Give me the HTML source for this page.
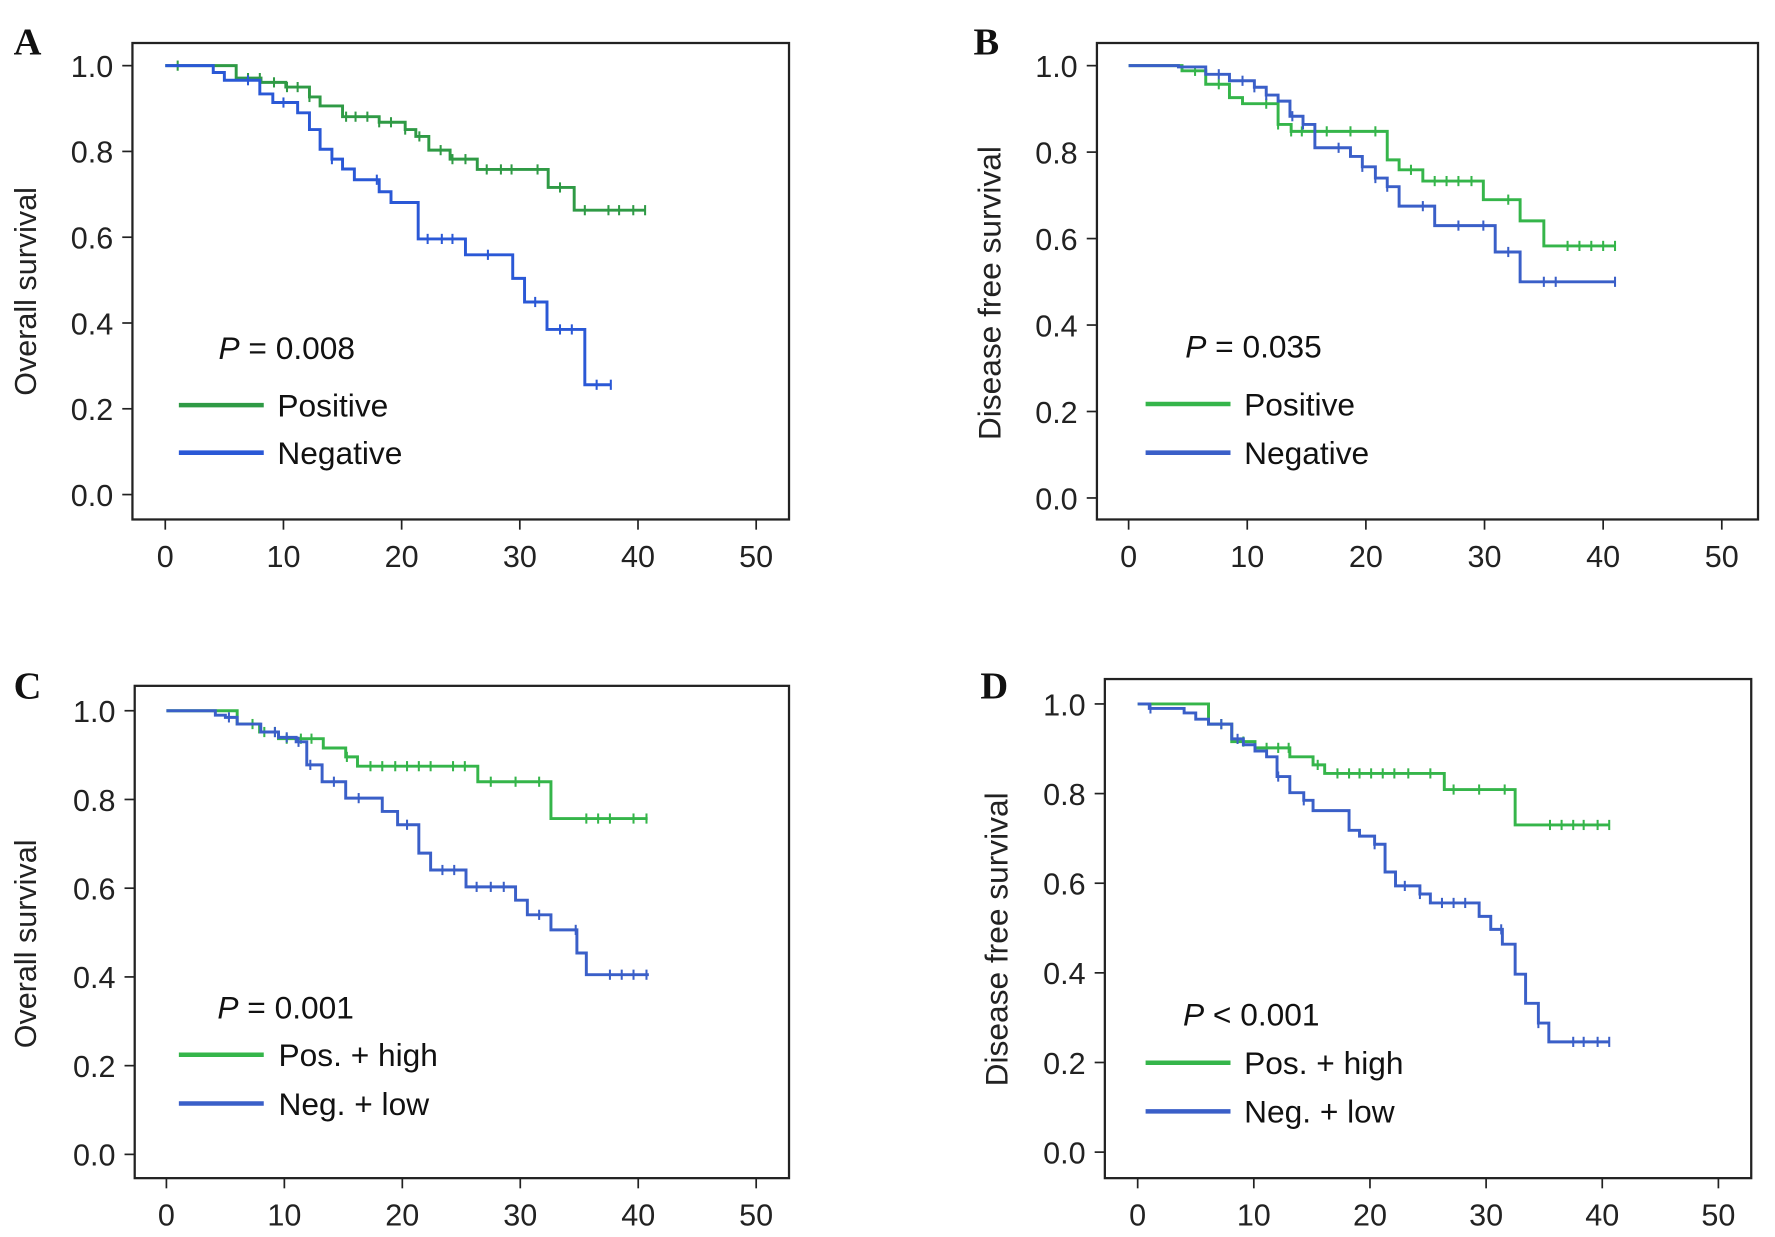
<!DOCTYPE html>
<html><head><meta charset="utf-8"><style>
html,body{margin:0;padding:0;background:#fff;}
svg{display:block;font-family:"Liberation Sans",sans-serif;}
</style></head><body>
<svg id="fig" width="1775" height="1237" viewBox="0 0 1568 1093" preserveAspectRatio="none" xmlns="http://www.w3.org/2000/svg"></svg>
<script>
// ---- data ----
const xTicks = [0,10,20,30,40,50];
const yTicks = [0.0,0.2,0.4,0.6,0.8,1.0];
const yTickLabels = ["0.0","0.2","0.4","0.6","0.8","1.0"];

const aPosSteps = [[0,1],[6,0.971],[8.1,0.961],[10.2,0.95],[12.2,0.927],[13.1,0.906],[15,0.881],[18.1,0.868],[20.3,0.851],[21.2,0.835],[22.3,0.803],[24.1,0.782],[26.4,0.758],[32.4,0.716],[34.6,0.663]];
const aPosEnd = 40.6;
const aPosCens = [1.05,7,8,9.2,10.3,11.2,12.2,15.3,16.1,17.1,18.1,19.1,20.3,21.5,23.3,24.3,25.4,27.2,28.4,29.3,31.5,33.4,35.5,37.5,38.4,39.6,40.6];
const aNegSteps = [[0,1],[4.06,0.984],[5,0.966],[8,0.934],[9.1,0.914],[11.2,0.89],[12.2,0.851],[13.1,0.805],[14.1,0.782],[15,0.759],[16,0.734],[18.1,0.706],[19.1,0.681],[21.4,0.596],[25.4,0.559],[29.4,0.504],[30.4,0.449],[32.3,0.385],[35.5,0.256]];
const aNegEnd = 37.7;
const aNegCens = [7,10,14.1,17.9,22.2,23.4,24.3,27.3,31.3,33.4,34.4,36.5,37.7];

const bPosSteps = [[0,1],[4.5,0.988],[6.5,0.957],[8.5,0.926],[9.6,0.912],[12.6,0.864],[13.7,0.848],[21.8,0.782],[22.8,0.759],[24.8,0.733],[29.9,0.69],[33,0.641],[35,0.583]];
const bPosEnd = 41;
const bPosCens = [5.6,7.6,11.6,12.6,13.7,14.6,16.7,18.7,20.8,23.8,25.8,26.8,27.8,28.9,32,37,38,39,40,41];
const bNegSteps = [[0,1],[4.2,0.997],[6.5,0.98],[8.5,0.965],[10.6,0.95],[11.6,0.932],[12.6,0.918],[13.6,0.883],[14.7,0.864],[15.7,0.81],[18.7,0.79],[19.7,0.766],[20.8,0.74],[21.8,0.72],[22.8,0.675],[25.8,0.63],[30.9,0.569],[33,0.5]];
const bNegEnd = 41;
const bNegCens = [7.6,9.6,10.6,11.6,13.8,14.7,17.7,19.7,20.8,21.8,24.8,27.8,29.9,32,35,36,41];

const cPosSteps = [[0,1],[6,0.97],[7.9,0.952],[9.5,0.937],[13.3,0.916],[15.2,0.896],[16.2,0.875],[26.4,0.84],[32.6,0.757]];
const cPosEnd = 40.8;
const cPosCens = [7.3,8.3,9.2,10.2,11.4,12.3,15.3,17.3,18.3,19.4,20.4,21.4,22.4,24.3,25.3,27.5,29.6,31.6,35.6,36.6,37.6,39.6,40.7];
const cNegSteps = [[0,1],[4.15,0.99],[5,0.985],[6,0.97],[8,0.952],[9.5,0.94],[11,0.93],[11.9,0.878],[13.2,0.84],[15.2,0.803],[18.3,0.773],[19.6,0.743],[21.4,0.679],[22.4,0.641],[25.4,0.603],[29.6,0.573],[30.6,0.54],[32.6,0.506],[34.8,0.454],[35.6,0.405]];
const cNegEnd = 40.9;
const cNegCens = [5.3,9.2,10.2,11.2,12.2,14.2,16.3,20.4,23.4,24.4,26.3,27.5,28.6,31.6,34.7,37.6,38.6,39.6,40.7];

const dPosSteps = [[0,1],[6.1,0.955],[8.1,0.916],[10.1,0.902],[13.1,0.882],[15.1,0.864],[16.1,0.845],[26.4,0.809],[32.5,0.73]];
const dPosEnd = 40.6;
const dPosCens = [7.2,9.1,11.1,12.1,13,15.5,17.2,18.2,19.1,20.1,21.1,22.1,23.3,25.2,27.2,29.4,31.6,35.5,36.5,37.5,38.4,39.6,40.6];
const dNegSteps = [[0,1],[1,0.99],[4,0.98],[5,0.966],[6.1,0.955],[8.1,0.922],[9.1,0.909],[10.1,0.895],[11.1,0.882],[12,0.838],[13.1,0.802],[14.3,0.785],[15.1,0.762],[18.2,0.718],[19.1,0.705],[20.4,0.687],[21.3,0.625],[22.2,0.594],[24.3,0.576],[25.2,0.556],[29.4,0.526],[30.4,0.497],[31.4,0.464],[32.5,0.397],[33.4,0.332],[34.5,0.288],[35.4,0.246]];
const dNegEnd = 40.6;
const dNegCens = [1.1,7.2,8.6,12.1,14.3,20.4,23,24.3,26.2,27.2,28.2,31.3,34.5,37.5,38.4,39.6,40.6];

const svg = document.getElementById('fig');
const NS = 'http://www.w3.org/2000/svg';
function mk(tag, attrs, parent){
  const e = document.createElementNS(NS, tag);
  for (const k in attrs) e.setAttribute(k, attrs[k]);
  (parent||svg).appendChild(e);
  return e;
}

const panels = [
 {id:'a', letter:'A', lx:12, ly:48, frame:[117,38,697,459], x0:146, x50:668, y1:58, y0:437, ytitle:'Overall survival', tx:22, tfs:27,
  pText:'0.008', pOp:'=', px:193, py:317, leg:[158,233,358,400,245], names:['Positive','Negative'],
  green:'#2f9a45', blue:'#2a58d6',
  series:[[aPosSteps,aPosEnd,aPosCens],[aNegSteps,aNegEnd,aNegCens]]},
 {id:'b', letter:'B', lx:860, ly:48, frame:[969,38,1553,459], x0:997, x50:1521, y1:58, y0:440, ytitle:'Disease free survival', tx:874, tfs:28,
  pText:'0.035', pOp:'=', px:1047, py:316, leg:[1012,1087,357,400,1099], names:['Positive','Negative'],
  green:'#35b54a', blue:'#3a5fc8',
  series:[[bPosSteps,bPosEnd,bPosCens],[bNegSteps,bNegEnd,bNegCens]]},
 {id:'c', letter:'C', lx:12, ly:617, frame:[119,606,697,1041], x0:147, x50:668, y1:628, y0:1020, ytitle:'Overall survival', tx:22, tfs:27,
  pText:'0.001', pOp:'=', px:192, py:900, leg:[158,233,932,975,246], names:['Pos. + high','Neg. + low'],
  green:'#35b54a', blue:'#3a5fc8',
  series:[[cPosSteps,cPosEnd,cPosCens],[cNegSteps,cNegEnd,cNegCens]]},
 {id:'d', letter:'D', lx:866, ly:617, frame:[976,600,1547,1041], x0:1005, x50:1518, y1:622, y0:1018, ytitle:'Disease free survival', tx:880, tfs:28,
  pText:'0.001', pOp:'<', px:1045, py:906, leg:[1012,1087,939,982,1099], names:['Pos. + high','Neg. + low'],
  green:'#35b54a', blue:'#3a5fc8',
  series:[[dPosSteps,dPosEnd,dPosCens],[dNegSteps,dNegEnd,dNegCens]]}
];

panels.forEach(p=>{
  const g = mk('g',{});
  
  
  const xs = t => p.x0 + (p.x50-p.x0)*t/50;
  const ys = v => p.y0 - (p.y0-p.y1)*v;
  const [l,t,r,b] = p.frame;

  const lt = mk('text',{x:p.lx,y:p.ly,'font-family':'"Liberation Serif",serif','font-weight':'bold','font-size':34,fill:'#111'},g);
  lt.textContent = p.letter;
  
  

  const fr = mk('rect',{x:l,y:t,width:r-l,height:b-t,fill:'none',stroke:'#222','stroke-width':2},g);
  
  

  yTicks.forEach((v,i)=>{
    const y = ys(v);
    const tk = mk('line',{x1:l-9,x2:l,y1:y,y2:y,stroke:'#222','stroke-width':1.5},g);
    
    
    const tl = mk('text',{x:l-17,y:y+10,'text-anchor':'end','font-size':27,fill:'#222'},g);
    tl.textContent = yTickLabels[i];
    
    
  });
  xTicks.forEach(v=>{
    const x = xs(v);
    const tk = mk('line',{x1:x,x2:x,y1:b,y2:b+9,stroke:'#222','stroke-width':1.5},g);
    
    
    const tl = mk('text',{x:x,y:b+42,'text-anchor':'middle','font-size':27,fill:'#222'},g);
    tl.textContent = String(v);
    
    
  });
  const cy = (p.y1+p.y0)/2;
  const yt = mk('text',{x:p.tx,y:cy,'text-anchor':'middle','font-size':p.tfs,fill:'#222',transform:'rotate(-90 '+(p.tx+10)+' '+cy+')'},g);
  yt.textContent = p.ytitle;
  
  

  const cols = [p.green, p.blue];
  p.series.forEach((s,si)=>{
    const [steps,end,cens] = s;
    let d = 'M'+xs(steps[0][0])+','+ys(steps[0][1]);
    for (let i=1;i<steps.length;i++){
      d += ' H'+xs(steps[i][0])+' V'+ys(steps[i][1]);
    }
    d += ' H'+xs(end);
    const path = mk('path',{d:d,fill:'none',stroke:cols[si],'stroke-width':2.6},g);
    
    
    const survAt = tt => { let v=steps[0][1]; steps.forEach(st=>{ if (st[0]<=tt) v=st[1]; }); return v; };
    cens.forEach(c=>{
      const x = xs(c), y = ys(survAt(c));
      const m = mk('line',{x1:x,x2:x,y1:y-4.5,y2:y+4.5,stroke:cols[si],'stroke-width':1.8},g);
      
      
    });
  });

  const pt = mk('text',{x:p.px,y:p.py,'font-size':28,fill:'#111'},g);
  pt.innerHTML = '<tspan font-style="italic">P</tspan> '+(p.pOp==='<'?'&lt;':'=')+' '+p.pText;
  
  

  const [x1,x2,ya,yb,tx] = p.leg;
  [ya,yb].forEach((yy,i)=>{
    const ln = mk('line',{x1:x1,x2:x2,y1:yy,y2:yy,stroke:cols[i],'stroke-width':4},g);
    
    
    const lt2 = mk('text',{x:tx,y:yy+10,'font-size':28,fill:'#111'},g);
    lt2.textContent = p.names[i];
    
    
  });
});
</script>
</body></html>
